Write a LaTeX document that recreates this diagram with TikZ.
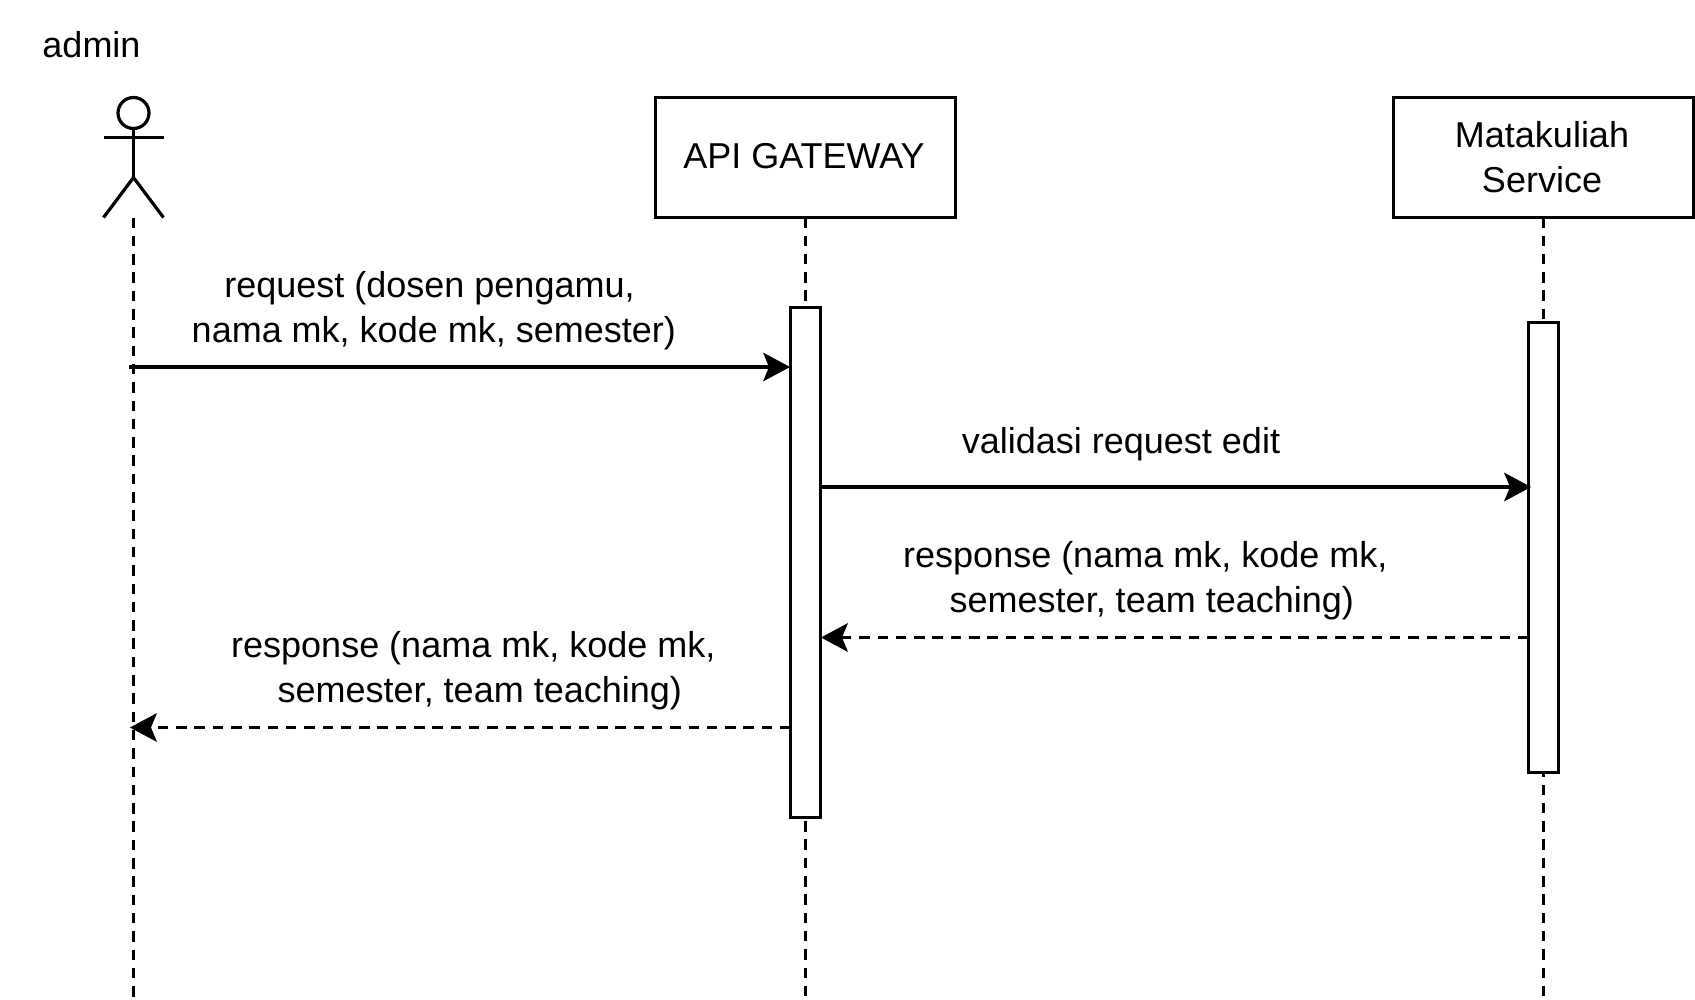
\documentclass[tikz,border=0pt]{standalone}
\usepackage{fontspec}
\setmainfont{Liberation Sans}
\usetikzlibrary{arrows.meta}
\tikzset{
  lbl/.style={font=\fontsize{36}{45}\selectfont, inner sep=0pt, align=center, text=black},
  lw/.style={line width=3.2pt, black},
  lifebox/.style={draw, lw, fill=white, minimum width=300pt, minimum height=119.5pt, inner sep=0pt, outer sep=0pt},
  activation/.style={draw, lw, fill=white, minimum width=29.5pt, inner sep=0pt, outer sep=0pt},
  lifeline/.style={lw, dash pattern=on 10.5pt off 7.8pt},
  msg/.style={lw, -{Stealth[length=27pt,width=29pt,inset=6pt,line width=0pt]}},
  ret/.style={lw, dash pattern=on 10.5pt off 7.8pt, -{Stealth[length=27pt,width=29pt,inset=6pt,line width=0pt]}},
  stick/.style={lw, line cap=butt}
}
\begin{document}
\begin{tikzpicture}[x=1pt,y=-1pt]
\useasboundingbox (0,0) rectangle (1695,999);
% actor
\node[lbl] (admin) at (91.5,45) {admin};
\node[draw, lw, circle, minimum size=31pt, inner sep=0pt, outer sep=0pt] (head) at (133.5,113) {};
\coordinate (hip) at (133.5,177.5);
\coordinate (armL) at (103.5,137.5);
\coordinate (armR) at (163.5,137.5);
\coordinate (footL) at (103.5,217.5);
\coordinate (footR) at (163.5,217.5);
\coordinate (actorBase) at (133.5,217.5);
\coordinate (actorEnd) at (133.5,999);
\draw[stick] (head.south) -- (hip);
\draw[stick] (armL) -- (armR);
\draw[stick] (footL) -- (hip) -- (footR);
\draw[lifeline] (actorBase) -- (actorEnd);
% API gateway
\node[lifebox] (api) at (805.5,157.5) {};
\node[lbl] (apilabel) at (804,156) {API GATEWAY};
\coordinate (apiEnd) at (805.5,999);
\draw[lifeline] (api.south) -- (apiEnd);
\node[activation, minimum height=510pt] (apiact) at (805.5,562.7) {};
% Matakuliah service
\node[lifebox] (svc) at (1543.5,157.5) {};
\node[lbl] (svclabel) at (1542,157.5) {Matakuliah\\Service};
\coordinate (svcEnd) at (1543.5,999);
\draw[lifeline] (svc.south) -- (svcEnd);
\node[activation, minimum height=449.5pt] (svcact) at (1543.5,547.5) {};
% messages
\coordinate (m1s) at (129,367);
\coordinate (m1e) at (790,367);
\coordinate (m2s) at (820.3,487);
\coordinate (m2e) at (1531,487);
\coordinate (m3s) at (1528.5,637.5);
\coordinate (m3e) at (821,637.5);
\coordinate (m4s) at (790.5,727.5);
\coordinate (m4e) at (130,727.5);
\draw[msg] (m1s) -- (m1e);
\draw[msg] (m2s) -- (m2e);
\draw[ret] (m3s) -- (m3e);
\draw[ret] (m4s) -- (m4e);
% labels
\node[lbl] (l1) at (433.8,311) {\mbox{request (dosen pengamu,\kern8.6pt}\\nama mk, kode mk, semester)};
\node[lbl] (l2) at (1121,444) {validasi request edit};
\node[lbl] (l3) at (1145.3,580.5) {response (nama mk, kode mk,\\\hspace{13pt}semester, team teaching)};
\node[lbl] (l4) at (473.3,670.5) {response (nama mk, kode mk,\\\hspace{13pt}semester, team teaching)};
\end{tikzpicture}
\end{document}
